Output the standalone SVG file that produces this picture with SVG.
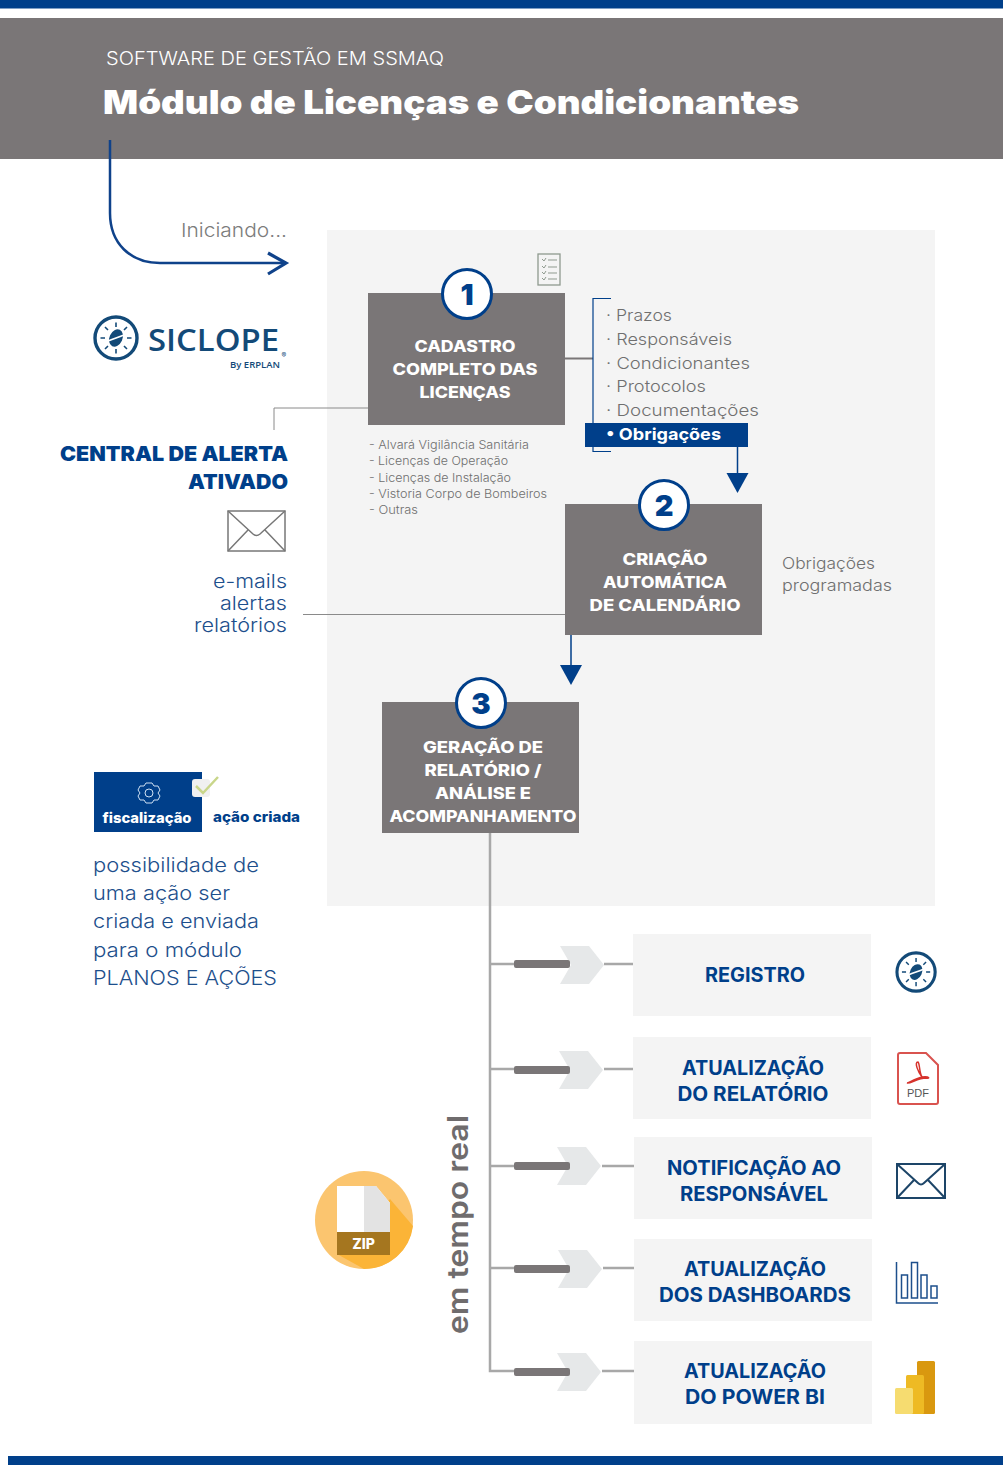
<svg xmlns="http://www.w3.org/2000/svg" width="1007" height="1465" viewBox="0 0 1007 1465">
<style>
text{font-family:"Inter","Liberation Sans",sans-serif}
.box{fill:#7a7677}
.bt{fill:#fff;font-size:16px;font-weight:800;text-anchor:middle}
.num{fill:#fff;stroke:#003f8a;stroke-width:3}
.nt{fill:#003f8a;font-size:29px;font-weight:900;text-anchor:middle}
.li{fill:#6f6f6f;font-size:16.5px;font-weight:300}
.sm{fill:#6f6f6f;font-size:11.5px;font-weight:300}
.lt{fill:#1d4f8c;font-size:19px;font-weight:300;text-anchor:end}
.pn{fill:#1d4f8c;font-size:19.5px;font-weight:300}
.rp{fill:#f4f4f4}
.rt{fill:#003f8a;font-size:19.5px;font-weight:700;text-anchor:middle}
.thin{fill:none;stroke:#8a8a8a;stroke-width:1}
.tr{stroke:#a8a8a8;stroke-width:2.5;fill:none}
.bar{fill:#7a7677}
.chev{fill:#e6e8e9}
.ic{fill:none;stroke:#1d4568;stroke-width:2}
</style>
<defs>
<g id="clock"><circle r="21" fill="none" stroke="#134a78" stroke-width="3.4"/>
<path d="M0-15.500V-11M0 15.500V11M-15.500 0H-11M15.500 0H11M-11-11L-8-8M11-11L8-8M-11 11L-8 8M11 11L8 8" stroke="#134a78" stroke-width="1.600" fill="none"/>
<ellipse rx="6.500" ry="9" transform="rotate(25)" fill="#134a78"/>
<path d="M-8 3C-3 1 3-1 8-3" fill="none" stroke="#fff" stroke-width="1.800"/></g>
<path id="chevron" d="M0-19H29L44 0L29 19H0L11 0Z"/>
</defs>

<rect x="0" y="0" width="1003" height="8.500" fill="#003f8a"/>
<rect x="0" y="18" width="1003" height="141" fill="#7a7677"/>
<rect x="8" y="1456" width="995" height="9" fill="#003f8a"/>
<text x="106" y="65" font-size="18.500" font-weight="300" fill="#fff" textLength="338" lengthAdjust="spacingAndGlyphs">SOFTWARE DE GESTÃO EM SSMAQ</text>
<text x="103" y="114" font-size="33" font-weight="900" fill="#fff" textLength="696" lengthAdjust="spacingAndGlyphs">Módulo de Licenças e Condicionantes</text>
<rect x="327" y="230" width="608" height="676" fill="#f4f4f4"/>

<g id="connectors">
<path d="M110 140V213C110 243 130 263 160 263H286" fill="none" stroke="#0f428a" stroke-width="2.500"/>
<path d="M268 253L286 263L268 274" fill="none" stroke="#0f428a" stroke-width="3.200"/>
<path class="thin" d="M368 408H274V430"/>
<path class="thin" d="M303 614.500H565"/>
<path d="M565 358.500H593" stroke="#7a7677" stroke-width="2" fill="none"/>
<path d="M611 298.500H593V451.500H611" fill="none" stroke="#003f8a" stroke-width="1.200"/>
<path d="M737.500 446V474" stroke="#003f8a" stroke-width="1.500"/>
<path d="M726.500 473H748.500L737.500 493Z" fill="#003f8a"/>
<path d="M571 635V665" stroke="#003f8a" stroke-width="1.500"/>
<path d="M560 665H582L571 685Z" fill="#003f8a"/>
<path class="tr" d="M490 833V1371H515"/>
<path class="tr" d="M490 964H515M604 964H633M490 1069H515M604 1069H633M490 1166H515M602 1166H634M490 1268H515M603 1268H634M602 1371H634" stroke-width="2"/>
<use href="#chevron" x="560" y="965" class="chev"/><rect class="bar" x="514" y="960" width="56" height="8" rx="2"/>
<use href="#chevron" x="559" y="1070" class="chev"/><rect class="bar" x="514" y="1066" width="56" height="8" rx="2"/>
<use href="#chevron" x="557" y="1166" class="chev"/><rect class="bar" x="514" y="1162" width="56" height="8" rx="2"/>
<use href="#chevron" x="558" y="1269" class="chev"/><rect class="bar" x="514" y="1265" width="56" height="8" rx="2"/>
<use href="#chevron" x="557" y="1372" class="chev"/><rect class="bar" x="514" y="1368" width="56" height="8" rx="2"/>
</g>

<text x="181" y="237" font-size="19" font-weight="300" fill="#7c7c7c" textLength="106" lengthAdjust="spacingAndGlyphs">Iniciando...</text>

<g id="logo">
<use href="#clock" x="116" y="338"/>
<text x="148" y="351" font-size="30" font-weight="600" fill="#134a78" style="font-family:'Open Sans','Liberation Sans',sans-serif" textLength="131" lengthAdjust="spacingAndGlyphs">SICLOPE</text>
<text x="230" y="368" font-size="9.500" font-weight="600" fill="#134a78" style="font-family:'Open Sans','Liberation Sans',sans-serif" textLength="50" lengthAdjust="spacingAndGlyphs">By ERPLAN</text>
<text x="281.500" y="358" font-size="7" fill="#134a78">®</text>
</g>

<g id="node1">
<rect class="box" x="368" y="293" width="197" height="132"/>
<circle class="num" cx="467" cy="294" r="24.500"/>
<text class="nt" x="467" y="305">1</text>
<text class="bt" x="465" y="352" textLength="101" lengthAdjust="spacingAndGlyphs">CADASTRO</text>
<text class="bt" x="465" y="375" textLength="145" lengthAdjust="spacingAndGlyphs">COMPLETO DAS</text>
<text class="bt" x="465" y="398" textLength="91" lengthAdjust="spacingAndGlyphs">LICENÇAS</text>
</g>
<g id="checklist" fill="none" stroke="#8f9a8f" stroke-width="1">
<rect x="538" y="254" width="22" height="31" stroke-width="1.300"/>
<path d="M542 259l2 2l2-3M548 260h9M542 266l2 2l2-3M548 267h9M542 272l2 2l2-3M548 273h9M542 278l2 2l2-3M548 279h9"/>
</g>
<g id="list1">
<text class="li" x="606" y="321" textLength="66" lengthAdjust="spacingAndGlyphs">· Prazos</text>
<text class="li" x="606" y="345" textLength="126" lengthAdjust="spacingAndGlyphs">· Responsáveis</text>
<text class="li" x="606" y="369" textLength="144" lengthAdjust="spacingAndGlyphs">· Condicionantes</text>
<text class="li" x="606" y="392" textLength="100" lengthAdjust="spacingAndGlyphs">· Protocolos</text>
<text class="li" x="606" y="416" textLength="153" lengthAdjust="spacingAndGlyphs">· Documentações</text>
<rect x="585" y="423" width="163" height="24" fill="#003f8a"/>
<text x="606" y="440" font-size="16.500" font-weight="700" fill="#fff" textLength="115" lengthAdjust="spacingAndGlyphs">• Obrigações</text>
</g>
<g id="list2">
<text class="sm" x="369" y="449" textLength="160" lengthAdjust="spacingAndGlyphs">- Alvará Vigilância Sanitária</text>
<text class="sm" x="369" y="465" textLength="139" lengthAdjust="spacingAndGlyphs">- Licenças de Operação</text>
<text class="sm" x="369" y="482" textLength="142" lengthAdjust="spacingAndGlyphs">- Licenças de Instalação</text>
<text class="sm" x="369" y="498" textLength="178" lengthAdjust="spacingAndGlyphs">- Vistoria Corpo de Bombeiros</text>
<text class="sm" x="369" y="514" textLength="49" lengthAdjust="spacingAndGlyphs">- Outras</text>
</g>

<g id="node2">
<rect class="box" x="565" y="504" width="197" height="131"/>
<circle class="num" cx="664" cy="505" r="24.500"/>
<text class="nt" x="664" y="516">2</text>
<text class="bt" x="665" y="565" textLength="85" lengthAdjust="spacingAndGlyphs">CRIAÇÃO</text>
<text class="bt" x="665" y="588" textLength="124" lengthAdjust="spacingAndGlyphs">AUTOMÁTICA</text>
<text class="bt" x="665" y="611" textLength="151" lengthAdjust="spacingAndGlyphs">DE CALENDÁRIO</text>
</g>
<text x="782" y="569" font-size="16" font-weight="300" fill="#6f6f6f" textLength="93" lengthAdjust="spacingAndGlyphs">Obrigações</text>
<text x="782" y="591" font-size="16" font-weight="300" fill="#6f6f6f" textLength="110" lengthAdjust="spacingAndGlyphs">programadas</text>

<g id="node3">
<rect class="box" x="382" y="702" width="197" height="131"/>
<circle class="num" cx="481" cy="703" r="24.500"/>
<text class="nt" x="481" y="714">3</text>
<text class="bt" x="483" y="753" textLength="120" lengthAdjust="spacingAndGlyphs">GERAÇÃO DE</text>
<text class="bt" x="483" y="776" textLength="117" lengthAdjust="spacingAndGlyphs">RELATÓRIO /</text>
<text class="bt" x="483" y="799" textLength="96" lengthAdjust="spacingAndGlyphs">ANÁLISE E</text>
<text class="bt" x="483" y="822" textLength="187" lengthAdjust="spacingAndGlyphs">ACOMPANHAMENTO</text>
</g>

<g id="alerta">
<text x="288" y="461" text-anchor="end" font-size="20.500" font-weight="900" fill="#003f8a" textLength="228" lengthAdjust="spacingAndGlyphs">CENTRAL DE ALERTA</text>
<text x="288" y="489" text-anchor="end" font-size="20.500" font-weight="900" fill="#003f8a" textLength="100" lengthAdjust="spacingAndGlyphs">ATIVADO</text>
<g fill="none" stroke="#777" stroke-width="1.500"><rect x="228" y="511" width="57" height="40"/><path d="M228 511L253 534Q256.500 537 260 534L285 511M228 551L248 530M285 551L265 530"/></g>
<text class="lt" x="287" y="588" textLength="74" lengthAdjust="spacingAndGlyphs">e-mails</text>
<text class="lt" x="287" y="610" textLength="67" lengthAdjust="spacingAndGlyphs">alertas</text>
<text class="lt" x="287" y="632" textLength="93" lengthAdjust="spacingAndGlyphs">relatórios</text>
</g>

<g id="fiscalizacao">
<rect x="94" y="772" width="108" height="60" fill="#003f8a"/>
<g fill="none" stroke="#cfe0f2" stroke-width="1"><circle cx="149" cy="793" r="4"/><path d="M146 783H152L154 786L158 786L160 790L158 793L160 796L158 800L154 800L152 803H146L144 800L140 800L138 796L140 793L138 790L140 786L144 786Z"/></g>
<text x="147" y="823" text-anchor="middle" font-size="14" font-weight="800" fill="#fff" textLength="89" lengthAdjust="spacingAndGlyphs">fiscalização</text>
<rect x="192" y="779" width="18" height="18" rx="3" fill="#f0f0f0"/>
<path d="M196 786L203 793L218 777" fill="none" stroke="#c9d68a" stroke-width="2.500"/>
<text x="213" y="822" font-size="13.500" font-weight="800" fill="#003f8a" textLength="87" lengthAdjust="spacingAndGlyphs">ação criada</text>
<text class="pn" x="93" y="872" textLength="166" lengthAdjust="spacingAndGlyphs">possibilidade de</text>
<text class="pn" x="93" y="900" textLength="137" lengthAdjust="spacingAndGlyphs">uma ação ser</text>
<text class="pn" x="93" y="928" textLength="166" lengthAdjust="spacingAndGlyphs">criada e enviada</text>
<text class="pn" x="93" y="957" textLength="149" lengthAdjust="spacingAndGlyphs">para o módulo</text>
<text class="pn" x="93" y="985" textLength="184" lengthAdjust="spacingAndGlyphs">PLANOS E AÇÕES</text>
</g>

<g id="zip">
<circle cx="364" cy="1220" r="49" fill="#fbc56f"/>
<path d="M390 1199L413 1226A49 49 0 0 1 364 1269L337 1254Z" fill="#fbb437"/>
<path d="M337 1186H376L390 1203V1232H337Z" fill="#fff"/>
<path d="M364 1186H376L390 1203V1232H364Z" fill="#e3e3e3"/>
<rect x="337" y="1232" width="53" height="23" fill="#a5761f"/>
<text x="363.500" y="1249" text-anchor="middle" font-size="14" font-weight="800" fill="#fff">ZIP</text>
</g>

<text transform="translate(468,1334) rotate(-90)" font-size="29" font-weight="600" fill="#6f6c6d" textLength="219" lengthAdjust="spacingAndGlyphs">em tempo real</text>

<g id="r1"><rect class="rp" x="633" y="934" width="238" height="82"/><text class="rt" x="755" y="982" textLength="100" lengthAdjust="spacingAndGlyphs">REGISTRO</text></g>
<use href="#clock" x="916" y="972" transform="translate(82.500 87.500) scale(.91)"/>
<g id="r2"><rect class="rp" x="633" y="1037" width="238" height="82"/><text class="rt" x="753" y="1075" textLength="142" lengthAdjust="spacingAndGlyphs">ATUALIZAÇÃO</text><text class="rt" x="753" y="1101" textLength="151" lengthAdjust="spacingAndGlyphs">DO RELATÓRIO</text></g>
<g id="pdf"><path d="M900 1053H926L938 1065V1102Q938 1104 936 1104H900Q898 1104 898 1102V1055Q898 1053 900 1053Z" fill="#fff" stroke="#d9534f" stroke-width="2"/>
<path d="M918 1062C914 1062 918 1072 922 1077C915 1079 908 1083 907 1083C910 1084 918 1078 926 1078C930 1079 930 1076 922 1077C919 1072 920 1064 918 1062Z" fill="none" stroke="#d6322c" stroke-width="1.500"/>
<text x="918" y="1097" text-anchor="middle" font-size="11" font-weight="500" fill="#555" style="font-family:'Liberation Sans',sans-serif">PDF</text></g>
<g id="r3"><rect class="rp" x="634" y="1137" width="238" height="82"/><text class="rt" x="754" y="1175" textLength="174" lengthAdjust="spacingAndGlyphs">NOTIFICAÇÃO AO</text><text class="rt" x="754" y="1201" textLength="148" lengthAdjust="spacingAndGlyphs">RESPONSÁVEL</text></g>
<g id="mail" class="ic"><rect x="897" y="1164" width="48" height="34"/><path d="M897 1164L918 1183Q921 1186 924 1183L945 1164M897 1198L914 1180M945 1198L928 1180"/></g>
<g id="r4"><rect class="rp" x="634" y="1239" width="238" height="82"/><text class="rt" x="755" y="1276" textLength="142" lengthAdjust="spacingAndGlyphs">ATUALIZAÇÃO</text><text class="rt" x="755" y="1302" textLength="192" lengthAdjust="spacingAndGlyphs">DOS DASHBOARDS</text></g>
<g id="bars" fill="none" stroke="#1d4f8c" stroke-width="1.500"><path d="M896.500 1262V1303H938"/><rect x="901.500" y="1275" width="6" height="23"/><rect x="911.500" y="1262.500" width="6" height="35.500"/><rect x="921" y="1275" width="6" height="23"/><rect x="931" y="1286" width="6" height="12"/></g>
<g id="r5"><rect class="rp" x="634" y="1341" width="238" height="83"/><text class="rt" x="755" y="1378" textLength="142" lengthAdjust="spacingAndGlyphs">ATUALIZAÇÃO</text><text class="rt" x="755" y="1404" textLength="140" lengthAdjust="spacingAndGlyphs">DO POWER BI</text></g>
<g id="powerbi"><rect x="917" y="1361" width="18" height="53" rx="1.500" fill="#d9980f"/><rect x="906" y="1375" width="18" height="39" rx="1.500" fill="#eeba24"/><rect x="895" y="1388" width="18" height="26" rx="1.500" fill="#f6dc70"/></g>
</svg>
